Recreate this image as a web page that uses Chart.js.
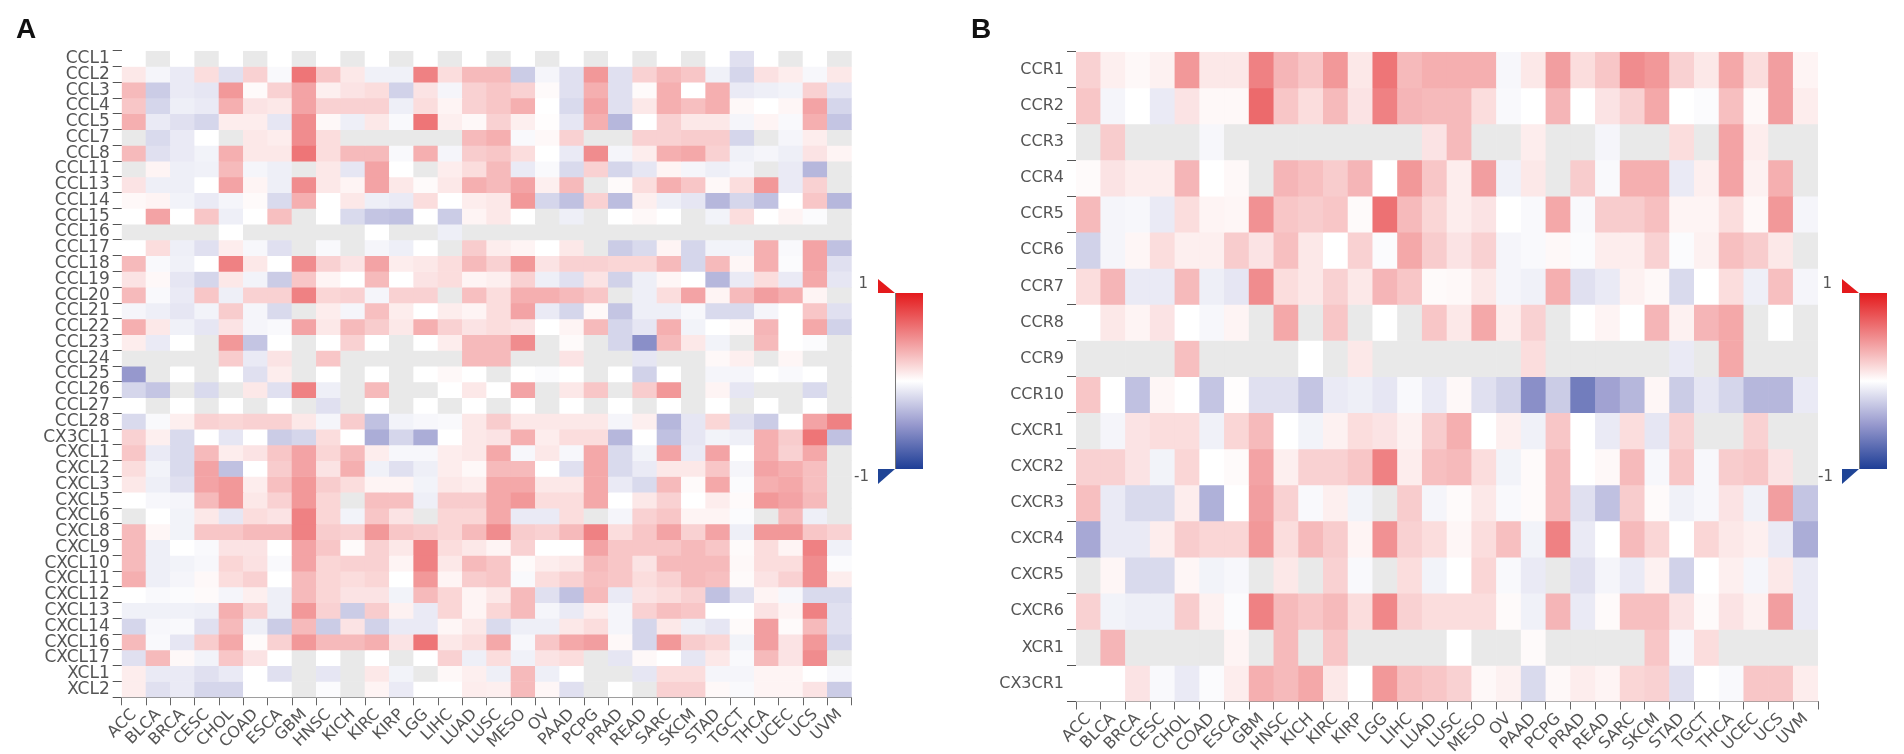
<!DOCTYPE html>
<html>
<head>
<meta charset="utf-8">
<script src="https://cdn.jsdelivr.net/npm/chart.js@4.4.1/dist/chart.umd.min.js"></script>
<style>
  body { margin: 0; background: #fff; }
  #wrap { position: relative; width: 1904px; height: 754px; }
  canvas { position: absolute; top: 0; }
  .tag { position: absolute; top: 13px; font: bold 28px "Liberation Sans", Arial, sans-serif; color: #111; }
</style>
</head>
<body>
<div id="wrap">
  <canvas id="chartA" width="952" height="754" style="left:0"></canvas>
  <canvas id="chartB" width="952" height="754" style="left:952px"></canvas>
  <div class="tag" style="left:16px">A</div>
  <div class="tag" style="left:971px">B</div>
</div>
<script>
var n = null; // grey cell, no value

var cancerTypes = ['ACC', 'BLCA', 'BRCA', 'CESC', 'CHOL', 'COAD', 'ESCA', 'GBM', 'HNSC', 'KICH', 'KIRC', 'KIRP', 'LGG', 'LIHC', 'LUAD', 'LUSC', 'MESO', 'OV', 'PAAD', 'PCPG', 'PRAD', 'READ', 'SARC', 'SKCM', 'STAD', 'TGCT', 'THCA', 'UCEC', 'UCS', 'UVM'];

var ligands = ['CCL1', 'CCL2', 'CCL3', 'CCL4', 'CCL5', 'CCL7', 'CCL8', 'CCL11', 'CCL13', 'CCL14', 'CCL15', 'CCL16', 'CCL17', 'CCL18', 'CCL19', 'CCL20', 'CCL21', 'CCL22', 'CCL23', 'CCL24', 'CCL25', 'CCL26', 'CCL27', 'CCL28', 'CX3CL1', 'CXCL1', 'CXCL2', 'CXCL3', 'CXCL5', 'CXCL6', 'CXCL8', 'CXCL9', 'CXCL10', 'CXCL11', 'CXCL12', 'CXCL13', 'CXCL14', 'CXCL16', 'CXCL17', 'XCL1', 'XCL2'];

var receptors = ['CCR1', 'CCR2', 'CCR3', 'CCR4', 'CCR5', 'CCR6', 'CCR7', 'CCR8', 'CCR9', 'CCR10', 'CXCR1', 'CXCR2', 'CXCR3', 'CXCR4', 'CXCR5', 'CXCR6', 'XCR1', 'CX3CR1'];

// correlation per row (gene) and column (cancer type)
var corrA = [
  [0,n,0,n,0,n,0,n,0,n,0,n,0,n,0,n,0,n,0,n,0,n,0,n,0,-0.15,0,n,0,n],
  [0.1,-0.05,-0.1,0.15,-0.15,0.2,-0.03,0.6,0.25,0.1,-0.07,-0.07,0.55,0.15,0.3,0.3,-0.25,-0.05,-0.15,0.45,-0.15,0.2,0.3,0.25,-0.07,-0.2,0.13,0.08,-0.04,0.1],
  [0.3,-0.25,-0.1,-0.12,0.45,0.02,0.2,0.4,0.07,0.12,0.15,-0.22,0.12,-0.05,0.2,0.25,0.2,0.02,-0.15,0.35,-0.15,0.02,0.35,0,0.35,-0.1,-0.08,-0.06,0.2,-0.12],
  [0.25,-0.2,-0.08,-0.1,0.35,0.12,0.1,0.4,0.2,0.2,0.2,-0.08,0.15,0.05,0.2,0.25,0.35,0,-0.18,0.4,-0.15,0.1,0.35,0.28,0.35,0.03,0,0.04,0.4,-0.2],
  [0.35,-0.1,-0.15,-0.2,0.08,0.08,-0.12,0.5,0.03,-0.08,0.1,-0.03,0.6,0.07,0.03,0.2,0.07,0.01,-0.12,0.35,-0.35,0,0.2,0.1,0.1,-0.05,0.05,-0.03,0.35,-0.28],
  [n,-0.18,-0.1,0,n,0.1,0.08,0.5,0.15,n,n,n,n,n,0.3,0.35,-0.03,0.03,0.2,n,n,0.2,0.2,0.22,0.22,-0.2,n,-0.05,0.08,n],
  [0.3,-0.15,-0.1,-0.06,0.35,0.1,0.1,0.6,0.15,0.3,0.3,-0.03,0.35,-0.05,0.22,0.25,0.15,0,-0.1,0.5,-0.05,0.08,0.35,0.38,0.2,-0.07,-0.05,-0.08,0.12,0.05],
  [n,0.05,-0.08,-0.07,0.3,-0.05,-0.08,n,0.1,-0.12,0.4,0,n,0.08,0.15,0.3,-0.1,-0.03,-0.18,0.2,-0.2,-0.12,0.05,-0.05,-0.08,-0.05,n,-0.1,-0.35,n],
  [0.12,-0.08,-0.08,0,0.4,0.05,-0.08,0.5,0.1,0.05,0.4,0.1,0.02,0.1,0.35,0.3,0.4,0.07,0.3,n,0.02,0.15,0.35,0.25,0.03,0.15,0.45,-0.1,0.2,n],
  [0.03,0.05,-0.06,-0.1,-0.05,0.02,-0.18,0.35,0,0.1,-0.08,-0.1,0.15,0,0.08,0.1,0.45,-0.2,-0.3,0.2,-0.32,0.07,-0.08,-0.12,-0.35,-0.2,-0.3,0,0.25,-0.35],
  [0,0.4,0,0.25,-0.08,0,0.28,n,0,-0.18,-0.28,-0.3,0,-0.25,0.05,0.1,0,n,-0.08,n,0,0.03,0,n,-0.06,0.15,0,0.05,-0.02,n],
  [n,n,n,n,0,n,n,n,n,n,0,n,n,-0.08,n,n,n,n,n,n,n,n,n,n,n,n,n,n,n,n],
  [0,0.15,-0.08,-0.15,0.08,-0.04,-0.15,n,-0.03,n,-0.05,-0.08,0,n,0.22,0.08,0.05,0,0.1,n,-0.25,-0.18,0.05,-0.2,-0.06,-0.06,0.35,-0.03,0.4,-0.3],
  [0.3,-0.03,-0.07,0,0.55,0.1,0,0.5,0.2,0.12,0.4,0.08,0.1,0.15,0.3,0.2,0.45,0.12,0.2,0.2,0.18,0.18,0.3,-0.2,0.3,0.04,0.35,-0.02,0.4,-0.15],
  [0.12,0.03,-0.12,-0.2,0.1,-0.06,-0.25,0.25,0.05,0,0.3,0,0.12,0.15,0.05,0.07,0.2,-0.08,-0.15,0.12,-0.22,-0.08,0.04,0,-0.35,-0.1,0.15,-0.1,0.38,-0.12],
  [0.3,-0.03,-0.1,0.25,-0.08,0.2,0.2,0.55,0.18,0.2,-0.05,0.2,0.2,n,0.28,0.15,0.35,0.35,0.3,0.25,n,-0.08,0.15,0.4,0.05,0.3,0.42,0.35,0.05,n],
  [-0.05,-0.08,-0.12,-0.06,0.22,-0.05,-0.18,n,0.08,-0.05,0.28,0.08,0,0.08,0.05,0.15,0.4,-0.1,-0.2,0.03,-0.28,-0.08,-0.08,-0.04,-0.18,-0.18,-0.05,0,0.25,-0.15],
  [0.35,0.1,-0.07,-0.12,0.12,-0.05,-0.03,0.4,0.1,0.3,0.22,0.1,0.35,0.2,0.12,0.15,0.12,0,0.05,0.3,-0.2,-0.12,0.35,-0.06,0,0.03,0.32,0,0.38,-0.22],
  [0.08,-0.1,0,n,0.45,-0.28,0,n,0,0.2,0,n,0,0.08,0.3,0.3,0.5,n,0.02,n,-0.2,-0.55,0.3,0.1,-0.06,n,0.3,0,-0.02,n],
  [n,n,n,n,0.22,-0.1,0.12,n,0.25,n,n,n,n,n,0.3,0.3,n,n,0.12,n,n,-0.12,n,n,0.03,0.07,n,0.04,n,n],
  [-0.5,n,0,n,0,-0.15,0.08,n,0,n,0,n,0,0.03,0,n,0,-0.02,0,n,0,-0.22,0,n,-0.05,-0.05,0,-0.03,0,n],
  [-0.2,-0.28,n,-0.18,n,0.1,-0.15,0.55,-0.08,n,0.3,n,n,0,0.1,0,0.4,n,0.1,0.25,n,0.22,0.45,n,0.05,-0.12,n,n,-0.18,n],
  [0,n,0,n,0,n,0,n,-0.15,n,0,n,0,n,0,n,0,n,0,n,0,n,0,n,0,n,0,n,0,n],
  [-0.18,-0.03,0.07,0.2,0.18,0.2,0.2,0.1,-0.05,0.22,-0.3,-0.06,-0.04,-0.03,0.1,0.22,0.1,0.1,0.1,0.1,-0.05,0.07,-0.35,-0.12,0.18,-0.15,-0.25,0,0.4,0.55],
  [0.2,0.07,-0.18,0,-0.12,0,-0.25,-0.2,0.15,0,-0.4,-0.2,-0.4,0,0.1,0.12,0.35,0.08,0.15,0.15,-0.35,0,-0.3,-0.12,-0.06,-0.08,0.35,0.22,0.6,-0.3],
  [0.25,-0.1,-0.18,0.3,0.08,0.12,0.25,0.4,0.18,0.3,0.08,-0.04,-0.04,0.08,0.1,0.38,-0.04,0.1,-0.04,0.38,-0.18,-0.06,0.4,-0.1,0.4,0,0.35,0.2,0.38,n],
  [0.15,-0.06,-0.18,0.4,-0.3,0,0.22,0.4,0.12,0.35,-0.07,-0.15,-0.08,0.08,0.03,0.3,0.3,0,-0.15,0.38,-0.18,-0.1,0.1,0.1,0.25,-0.05,0.4,0.35,0.28,n],
  [0.1,-0.08,-0.15,0.4,0.45,0.08,0.28,0.45,0.22,0.15,0.05,0.05,-0.06,0.1,0.08,0.38,0.38,0.1,0.1,0.38,-0.1,-0.18,0.3,0.02,0.38,-0.02,0.35,0.38,0.28,n],
  [0,-0.04,-0.05,0.3,0.45,0.1,0.2,0.45,0.18,n,0.28,0.28,-0.08,0.22,0.22,0.38,0.45,0.15,0.15,0.38,0,0.1,0.2,0,0.08,0.02,0.45,0.4,0.3,n],
  [n,0,-0.06,0.1,-0.12,0.15,0.12,0.55,0.18,-0.06,0.25,0.12,n,0.18,0.18,0.38,-0.1,-0.1,0.15,n,-0.05,0.2,0.25,0.05,0.05,-0.02,n,0.3,-0.08,n],
  [0.3,0.04,-0.06,0.25,0.25,0.3,0.3,0.55,0.22,0.2,0.45,0.25,0.22,0.18,0.3,0.5,0.22,0.2,0.3,0.55,0.15,0.25,0.4,0.2,0.4,-0.08,0.45,0.45,0.25,0.2],
  [0.3,-0.08,0,-0.03,0.12,0.12,0,0.4,0.25,0.02,0.2,0.1,0.55,0.15,0.1,0.05,0.2,0,0,0.4,0.25,0.25,0.25,0.3,0.25,0.02,0.15,0.05,0.55,-0.07],
  [0.3,-0.08,-0.06,-0.04,0.18,0.13,-0.03,0.4,0.18,0.2,0.2,0.05,0.55,0.1,0.3,0.25,0.02,0.08,0.1,0.3,0.25,0.12,0.3,0.3,0.3,0.03,0.15,0.15,0.5,-0.02],
  [0.35,-0.08,-0.05,0.03,0.15,0.2,0,0.3,0.18,0.15,0.18,0,0.45,0.05,0.22,0.25,-0.03,0.15,0.2,0.28,0.25,0.15,0.2,0.3,0.28,0.02,0.12,0.2,0.5,0.08],
  [0,-0.03,-0.02,0.02,-0.05,0.07,-0.08,0.3,0.18,0.12,0.12,-0.06,0.3,0.18,0.05,0.1,0.3,-0.15,-0.3,0.3,-0.1,0.12,0.15,0.2,-0.3,-0.15,0.05,-0.04,-0.18,-0.18],
  [-0.07,-0.07,-0.07,-0.08,0.35,0.2,-0.08,0.45,0.2,-0.25,0.22,0.06,-0.1,0.18,0.05,0.18,0.3,-0.05,-0.1,0.08,-0.05,0.2,0.28,0.25,0,0,0.12,0.05,0.55,-0.15],
  [-0.2,-0.04,-0.03,-0.15,0.3,-0.08,-0.25,0.3,-0.25,0.12,-0.22,-0.1,-0.1,0.04,0.1,-0.18,-0.08,-0.08,0.1,0.15,-0.05,-0.2,0.1,-0.08,-0.12,0.02,0.42,0.02,0.3,-0.15],
  [0.3,-0.03,-0.12,0.22,0.38,0.02,0.2,0.45,0.3,0.3,0.35,0.12,0.6,0.1,0.15,0.38,-0.04,0.25,0.38,0.42,0.03,-0.2,0.45,0.22,0.18,-0.06,0.42,0.12,0.45,-0.2],
  [-0.15,0.3,0.03,-0.06,0.25,0.12,0,n,0,n,0,n,0,0.2,-0.08,0.15,-0.07,0.12,0.15,n,-0.12,0.03,0,-0.12,0.1,-0.03,0.3,0.12,0.5,n],
  [0.08,-0.1,-0.1,-0.15,-0.1,0,-0.15,n,-0.12,n,0.1,-0.06,n,0.03,0.07,-0.08,0.3,-0.08,0,n,n,-0.12,0.15,0.15,-0.05,-0.05,0.05,0.05,0,-0.04],
  [0.08,-0.15,-0.1,-0.2,-0.2,0,0,n,-0.02,n,0.05,-0.1,0,0,0.08,0.07,0.3,0.04,-0.15,n,0,n,0.2,0.2,0.03,-0.03,0.05,0.05,0.12,-0.25]
];

var corrB = [
  [0.2,0.07,0.03,0.06,0.45,0.1,0.1,0.55,0.32,0.25,0.45,0.1,0.6,0.3,0.35,0.35,0.35,-0.04,0.1,0.42,0.15,0.25,0.5,0.45,0.2,0.1,0.38,0.15,0.42,0.05],
  [0.25,-0.05,0,-0.1,0.12,0.03,0.03,0.65,0.25,0.15,0.3,0.12,0.55,0.32,0.3,0.3,0.15,-0.03,0,0.32,0,0.12,0.2,0.38,0,-0.02,0.28,0.03,0.42,0.08],
  [n,0.22,n,n,n,-0.04,n,n,n,n,n,n,n,n,0.12,0.3,n,n,0.08,n,n,-0.05,n,n,0.15,n,0.4,0.08,n,n],
  [0.02,0.12,0.08,0.08,0.32,0,0.03,n,0.32,0.28,0.22,0.32,0,0.45,0.25,0.08,0.42,-0.07,0.1,n,0.22,-0.03,0.35,0.35,-0.1,0.07,0.4,0.06,0.35,n],
  [0.3,-0.05,-0.04,-0.1,0.15,0.05,0.04,0.48,0.25,0.22,0.25,0.02,0.62,0.3,0.18,0.08,0.12,0,-0.03,0.38,-0.03,0.22,0.22,0.28,0.05,0.05,0.15,0.03,0.45,-0.05],
  [-0.22,-0.05,0.04,0.15,0.07,0.07,0.22,0.12,0.28,0.1,0,0.2,-0.02,0.38,0.22,0.12,0.2,-0.05,-0.03,0.03,-0.02,0.08,0.08,0.2,-0.02,0.06,0.28,0.22,0.1,n],
  [0.15,0.32,-0.1,-0.1,0.3,-0.08,-0.12,0.5,0.15,0.1,0.2,0.1,0.32,0.25,0.02,0.03,0.1,-0.05,-0.07,0.35,-0.15,-0.1,0.06,0.03,-0.18,0,0.15,-0.08,0.28,-0.05],
  [0,0.1,0.05,0.12,0,-0.04,0.05,n,0.38,n,0.25,n,0,n,0.25,0.1,0.38,0.08,0.2,n,0,0.05,0,0.32,0.06,0.32,0.38,n,0,n],
  [n,n,n,n,0.28,n,n,n,n,0,n,0.1,n,n,n,n,n,n,0.15,n,n,n,n,n,-0.1,n,0.38,n,n,n],
  [0.25,0,-0.3,0.04,0,-0.28,0.01,-0.15,-0.15,-0.28,-0.1,-0.08,-0.12,-0.03,-0.1,0.03,-0.15,-0.22,-0.55,-0.25,-0.65,-0.45,-0.35,0.04,-0.25,-0.12,-0.2,-0.35,-0.35,-0.1],
  [n,-0.05,0.12,0.15,0.15,-0.07,0.18,0.3,0,-0.06,0.06,0.15,0.12,0.06,0.22,0.35,0,0.07,-0.07,0.25,0,-0.1,0.15,-0.12,0.2,n,n,0.2,n,n],
  [0.2,0.2,0.12,-0.06,0.18,0,0.02,0.4,0.07,0.2,0.2,0.25,0.55,0.08,0.28,0.3,0.15,-0.06,0.02,0.3,0,0.03,0.3,-0.04,0.25,-0.04,0.22,0.25,0.12,n],
  [0.28,-0.1,-0.18,-0.18,0.08,-0.38,0,0.42,0.2,-0.03,0.07,-0.06,n,0.22,-0.05,0.02,0.1,-0.03,0.02,0.3,-0.15,-0.3,0.22,0.02,-0.07,-0.04,0.12,-0.07,0.42,-0.28],
  [-0.42,-0.1,-0.1,0.08,0.22,0.18,0.18,0.45,0.15,0.3,0.22,0.05,0.48,0.2,0.15,0.04,0.15,0.28,-0.06,0.55,-0.1,0,0.3,0.18,0,0.18,0.1,0.07,-0.1,-0.4],
  [n,0.04,-0.18,-0.18,0.04,-0.06,-0.04,n,0.1,n,0.2,-0.03,n,0.15,-0.06,0,0.18,-0.03,-0.1,n,-0.15,-0.05,-0.1,0.06,-0.22,0,0.07,-0.05,0.1,-0.1],
  [0.2,-0.06,-0.08,-0.08,0.22,0.06,-0.02,0.55,0.3,0.25,0.3,0.15,0.52,0.2,0.15,0.15,0.15,0.02,-0.07,0.32,-0.1,0.02,0.28,0.28,0.12,0.02,0.12,0.06,0.42,-0.1],
  [n,0.32,n,n,n,n,0.05,n,0.3,n,0.25,n,n,n,n,0,n,n,0.02,n,n,n,n,0.25,-0.04,0.15,n,n,n,n],
  [0,0,0.12,-0.03,-0.1,-0.02,0.08,0.35,0.3,0.38,0.1,0,0.45,0.28,0.25,0.2,0.03,0.06,-0.18,0.03,0.08,0.05,0.18,0.2,-0.15,0,-0.03,0.25,0.25,0.08]
];

// colour scale -1 .. 1
var scaleStops = [
  [-1, [30, 62, 150]],
  [-0.5, [150, 152, 205]],
  [0, [255, 255, 255]],
  [0.5, [240, 140, 142]],
  [1, [228, 26, 28]]
];
var greyCell = '#e9e9e9';

function cellColor(v) {
  if (v === null) return greyCell;
  for (var i = 1; i < scaleStops.length; i++) {
    if (v <= scaleStops[i][0]) {
      var a = scaleStops[i - 1], b = scaleStops[i];
      var t = (v - a[0]) / (b[0] - a[0]);
      var c = a[1].map(function (x, k) { return Math.round(x + (b[1][k] - x) * t); });
      return 'rgb(' + c.join(',') + ')';
    }
  }
  return 'rgb(' + scaleStops[scaleStops.length - 1][1].join(',') + ')';
}

// colour bar with the two end flags
var colorbar = {
  id: 'colorbar',
  afterDraw: function (chart, args, o) {
    var ctx = chart.ctx;
    var x0 = o.x, w = 28, top = 293, bottom = 469, f = 17;
    ctx.save();
    var g = ctx.createLinearGradient(0, top, 0, bottom);
    scaleStops.forEach(function (s) {
      g.addColorStop((1 - s[0]) / 2, 'rgb(' + s[1].join(',') + ')');
    });
    ctx.fillStyle = g;
    ctx.fillRect(x0, top, w, bottom - top);
    ctx.strokeStyle = '#777';
    ctx.lineWidth = 1;
    ctx.beginPath();
    ctx.moveTo(x0 + 0.5, top);
    ctx.lineTo(x0 + 0.5, bottom);
    ctx.stroke();

    ctx.fillStyle = '#e41a1c';
    ctx.beginPath();
    ctx.moveTo(x0 - f, top - 14);
    ctx.lineTo(x0, top);
    ctx.lineTo(x0 - f, top);
    ctx.closePath();
    ctx.fill();

    ctx.fillStyle = '#1f4496';
    ctx.beginPath();
    ctx.moveTo(x0 - f, bottom);
    ctx.lineTo(x0, bottom);
    ctx.lineTo(x0 - f, bottom + 15);
    ctx.closePath();
    ctx.fill();

    ctx.fillStyle = '#555';
    ctx.font = '15px "DejaVu Sans"';
    ctx.textAlign = 'right';
    ctx.textBaseline = 'middle';
    ctx.fillText('1', x0 - 27, top - 9);
    ctx.fillText('-1', x0 - 26, bottom + 8);
    ctx.restore();
  }
};

function heatmap(id, rows, values, box) {
  var rowH = box.height / rows.length;
  new Chart(document.getElementById(id), {
    type: 'bar',
    data: {
      labels: cancerTypes,
      datasets: rows.map(function (name, r) {
        return {
          label: name,
          data: cancerTypes.map(function () { return [r, r + 1]; }),
          backgroundColor: values[r].map(cellColor),
          borderWidth: 0,
          grouped: false,
          barPercentage: 1,
          categoryPercentage: 1
        };
      })
    },
    options: {
      responsive: false,
      animation: false,
      events: [],
      layout: { padding: { left: 0, top: box.top, right: box.right, bottom: 0 } },
      plugins: {
        legend: { display: false },
        tooltip: { enabled: false },
        colorbar: { x: box.barX }
      },
      scales: {
        x: {
          offset: true,
          grid: { drawOnChartArea: false, tickLength: 8, color: '#666', offset: true },
          border: { display: true, color: '#888' },
          ticks: { autoSkip: false, minRotation: 45, maxRotation: 45, padding: 0, color: '#555', font: { family: 'DejaVu Sans', size: 16 } },
          afterFit: function (s) { s.height = box.xHeight; }
        },
        y: {
          type: 'linear',
          reverse: true,
          min: 0,
          max: rows.length,
          afterBuildTicks: function (s) {
            s.ticks = rows.map(function (_, i) { return { value: i }; }).concat([{ value: rows.length }]);
          },
          grid: { drawOnChartArea: false, tickLength: 9, color: '#555' },
          border: { display: false },
          ticks: {
            autoSkip: false,
            padding: 3,
            labelOffset: rowH / 2,
            color: '#555',
            font: { family: 'DejaVu Sans', size: box.font },
            callback: function (v) { return rows[v] || ''; }
          },
          afterFit: function (s) { s.width = box.left; }
        }
      }
    },
    plugins: [colorbar]
  });
}

heatmap('chartA', ligands, corrA, { left: 121.7, top: 50.7, right: 100.3, height: 646.6, xHeight: 56.7, font: 17, barX: 895 });
heatmap('chartB', receptors, corrB, { left: 124, top: 51.7, right: 86, height: 649.8, xHeight: 52.5, font: 16, barX: 907 });
</script>
</body>
</html>
